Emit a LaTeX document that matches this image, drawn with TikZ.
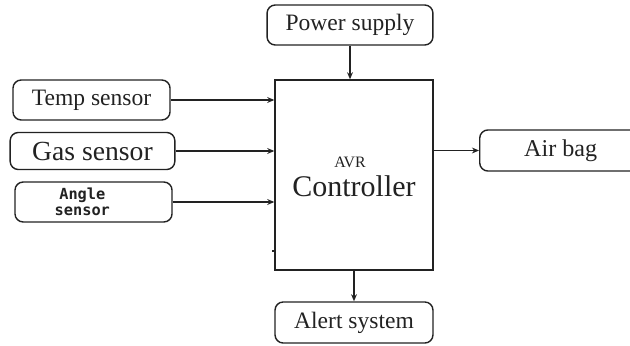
\documentclass[tikz,border=0pt]{standalone}
\usepackage{fontspec}
\setmainfont{Liberation Serif}
\newfontfamily\monofnt{DejaVu Sans Mono}
\usetikzlibrary{arrows.meta}
\definecolor{ink}{HTML}{222222}
\tikzset{
  rbox/.style={draw=ink, line width=1.2pt, rounded corners=7pt, align=center, inner sep=0pt, text=ink},
  cbox/.style={draw=ink, line width=1.2pt, inner sep=0pt},
  ctext/.style={text=ink, inner sep=0pt},
  conn/.style={draw=ink, line width=1pt, -{Stealth[length=6pt,width=5pt]}}
}
\begin{document}
\begin{tikzpicture}[x=0.85pt,y=-0.85pt]
\useasboundingbox (0,0) rectangle (630,346);
\node[rbox, minimum width=141pt, minimum height=34pt, font=\fontsize{20}{22}\selectfont] (power) at (350,25) {Power supply};
\node[cbox, minimum width=134.3pt, minimum height=161.5pt] (ctrl) at (354,175) {};
\node[ctext, font=\fontsize{13.5}{15}\selectfont] (avr) at (350,162) {AVR};
\node[ctext, font=\fontsize{25.5}{27}\selectfont] (ctl) at (354,186) {Controller};
\node[rbox, minimum width=134.3pt, minimum height=34.9pt, font=\fontsize{20}{22}\selectfont] (alert) at (354,322.5) {Alert system};
\node[rbox, minimum width=133.5pt, minimum height=34pt, font=\fontsize{20}{22}\selectfont] (temp) at (91.5,100) {Temp sensor};
\node[rbox, minimum width=140pt, minimum height=31.5pt, font=\fontsize{23.5}{25}\selectfont] (gas) at (92.5,151) {Gas sensor};
\node[rbox, minimum width=133.5pt, minimum height=34pt, font=\monofnt\bfseries\fontsize{13}{14}\selectfont] (angle) at (93.5,202) {\hspace*{-19pt}Angle\\\hspace*{-19pt}sensor};
\node[rbox, minimum width=137.7pt, minimum height=34.9pt, anchor=west, font=\fontsize{20.5}{22}\selectfont] (airbag) at (479,150.5) {Air bag};
\coordinate (tick) at (272,251);
\draw[draw=ink, line width=1pt] (tick) -- (tick -| ctrl.west);
\draw[conn] (power.south) -- (power.south |- ctrl.north);
\draw[conn] (ctrl.south -| alert.north) -- (alert.north);
\draw[conn] (temp.east) -- (temp.east -| ctrl.west);
\draw[conn] (gas.east) -- (gas.east -| ctrl.west);
\draw[conn] (angle.east) -- (angle.east -| ctrl.west);
\draw[conn] (airbag.west -| ctrl.east) -- (airbag.west);
\end{tikzpicture}
\end{document}
